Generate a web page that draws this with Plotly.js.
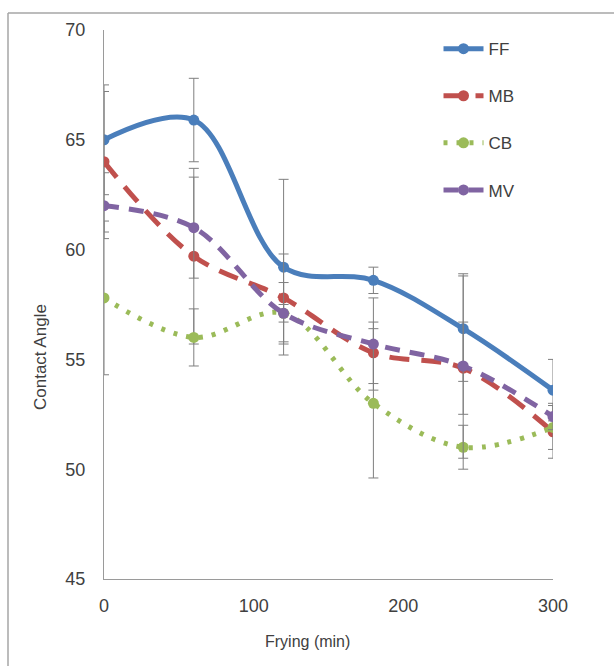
<!DOCTYPE html>
<html>
<head>
<meta charset="utf-8">
<script src="https://cdn.plot.ly/plotly-3.0.1.min.js"></script>
<style>html,body{margin:0;padding:0;background:#fff;}#chart{width:614px;height:666px;}</style>
</head>
<body>
<div id="chart"></div>
<script>
const frying = [0, 60, 120, 180, 240, 300];
const seriesNames = ["FF", "MB", "CB", "MV"];
const ffValues = [65.0, 65.9, 59.2, 58.6, 56.4, 53.6];
const mbValues = [64.0, 59.7, 57.8, 55.3, 54.6, 51.7];
const cbValues = [57.8, 56.0, 57.1, 53.0, 51.0, 51.9];
const mvValues = [62.0, 61.0, 57.1, 55.7, 54.7, 52.4];
const ffErrors = [2.5, 1.9, 4.0, 0.6, 2.4, 1.4];
const mbErrors = [3.2, 4.0, 2.0, 1.4, 2.1, 1.2];
const cbErrors = [3.5, 1.3, 0.4, 3.4, 1.0, 1.0];
const mvErrors = [1.5, 2.3, 1.4, 2.1, 4.2, 0.6];
const xTickLabels = ["0", "100", "200", "300"];
const xTickValues = [0, 100, 200, 300];
const yTickValues = [45, 50, 55, 60, 65, 70];
const xTitle = "Frying (min)";
const yTitle = "Contact Angle";

const colors = ["#4A7EBB", "#C0504D", "#9BBB59", "#8064A2"];
const dashes = ["solid", "20px,12px", "4px,9px", "15px,10px"];
const values = [ffValues, mbValues, cbValues, mvValues];
const errors = [ffErrors, mbErrors, cbErrors, mvErrors];

const traces = seriesNames.map((name, i) => ({
  type: "scatter",
  mode: "lines+markers",
  name: name,
  legendgroup: name,
  x: frying,
  y: values[i],
  line: {color: colors[i], width: 5, shape: "spline", smoothing: 1, dash: dashes[i]},
  marker: {color: colors[i], size: 11, symbol: "circle"},
  error_y: {type: "data", array: errors[i], visible: true, color: "#7f7f7f", thickness: 1, width: 5}
}));

const font = "'Liberation Sans Narrow', 'Liberation Sans', Arial, sans-serif";

const layout = {
  width: 614,
  height: 666,
  margin: {l: 104, r: 61, t: 30, b: 87},
  paper_bgcolor: "#ffffff",
  plot_bgcolor: "#ffffff",
  showlegend: true,
  font: {family: font, color: "#404040", size: 17},
  xaxis: {
    range: [0, 300],
    tickvals: xTickValues,
    ticktext: xTickLabels,
    showgrid: false,
    zeroline: false,
    showline: true,
    linecolor: "#9a9a9a",
    linewidth: 1,
    ticks: "",
    ticklabelstandoff: 10,
    tickfont: {family: font, size: 18, color: "#404040"}
  },
  yaxis: {
    range: [45, 70],
    tickvals: yTickValues,
    showgrid: false,
    zeroline: false,
    showline: true,
    linecolor: "#9a9a9a",
    linewidth: 1,
    ticks: "",
    ticklabelstandoff: 14,
    tickfont: {family: font, size: 18, color: "#404040"}
  },
  annotations: [
    {text: xTitle, xref: "paper", yref: "paper", x: (307 - 104) / 449, y: (579 - 641) / 549,
     xanchor: "center", yanchor: "middle", showarrow: false, font: {family: font, size: 16, color: "#404040"}},
    {text: yTitle, xref: "paper", yref: "paper", x: (40 - 104) / 449, y: (579 - 357) / 549,
     xanchor: "center", yanchor: "middle", textangle: -90, showarrow: false, font: {family: font, size: 17, color: "#404040"}}
  ],
  legend: {
    x: 0.745, y: 0.998, xanchor: "left", yanchor: "top",
    bgcolor: "rgba(255,255,255,0)",
    font: {family: font, size: 17, color: "#404040"},
    traceorder: "grouped",
    tracegroupgap: 22,
    itemwidth: 40
  },
  shapes: [
    {type: "line", xref: "paper", yref: "paper", x0: -0.2138, x1: 1.3, y0: 1.031, y1: 1.031, line: {color: "#a6a6a6", width: 1.5}},
    {type: "line", xref: "paper", yref: "paper", x0: -0.2138, x1: -0.2138, y0: 1.031, y1: -0.3, line: {color: "#a6a6a6", width: 1.5}}
  ]
};

Plotly.newPlot("chart", traces, layout, {displayModeBar: false, staticPlot: true});
</script>
</body>
</html>
